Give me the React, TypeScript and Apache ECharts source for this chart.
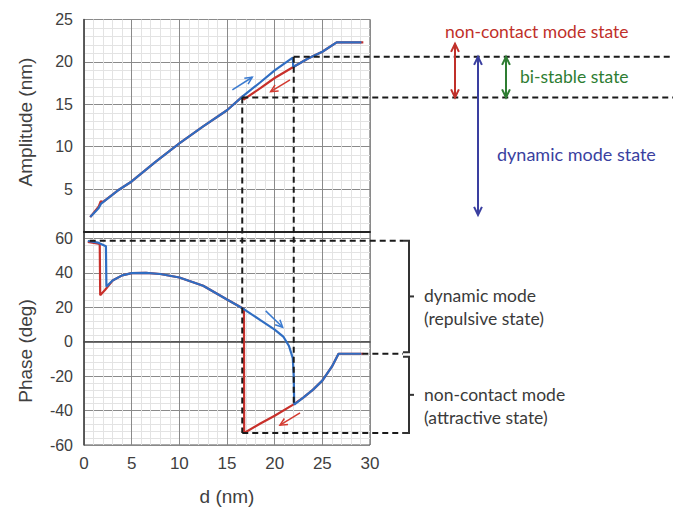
import React, { useEffect, useRef } from "react";
import * as echarts from "echarts";

// ---------- tick labels ----------
const xTickLabels = [0, 5, 10, 15, 20, 25, 30];
const ampTickLabels = [5, 10, 15, 20, 25];
const phaseTickLabels = [-60, -40, -20, 0, 20, 40, 60];

// ---------- amplitude (top panel) ----------
const ampBlueD = [0.65, 1.5, 1.8, 3.5, 5, 7.5, 10, 12.5, 15, 16.7, 18.5, 20, 21.9, 21.95, 23.5, 25, 26.5, 29.1];
const ampBlueA = [1.7, 2.7, 3.3, 4.8, 5.9, 8.2, 10.4, 12.4, 14.3, 16.0, 17.6, 19.0, 20.5, 19.4, 20.4, 21.2, 22.3, 22.3];

const ampRedD = [29.3, 26.5, 25, 23.5, 21.95, 20, 18.5, 17.0, 16.75, 16.7, 15, 12.5, 10, 7.5, 5, 3.5, 2.0, 1.75, 1.55, 0.65];
const ampRedA = [22.3, 22.3, 21.2, 20.4, 19.4, 18.1, 16.9, 15.75, 15.55, 16.0, 14.3, 12.4, 10.4, 8.2, 5.9, 4.8, 3.5, 3.55, 2.95, 1.7];

// ---------- phase (bottom panel) ----------
const phBlueD = [0.4, 1.5, 2.3, 2.35, 3.0, 4.0, 5.0, 6.5, 8.0, 10, 12.5, 15, 16.8, 18.5, 20, 20.9, 21.5, 21.9, 22.0, 22.05, 23, 24, 25, 26, 26.7, 29.1];
const phBlueP = [58.5, 57.5, 55.5, 32, 35.5, 38.5, 39.8, 40, 39.3, 37.3, 32.5, 24.5, 18.8, 12.5, 7.0, 3.0, -2.5, -9.5, -20, -36.5, -32.5, -28, -22.6, -14.5, -7, -7];

const phRedD = [0.4, 1.5, 1.65, 1.7, 2.2, 3.0, 4, 5, 6.5, 8, 10, 12.5, 15, 16.78, 16.8, 18.5, 20, 21.9, 23, 24, 25, 26, 26.7, 29.3];
const phRedP = [58, 57, 56.5, 27, 30, 35.5, 38.5, 39.8, 40, 39.3, 37.3, 32.5, 24.5, 19, -53, -47.5, -43, -36.7, -32.5, -28, -22.6, -14.5, -7, -7];

// ---------- annotation levels (data units) ----------
const A_HIGH = 20.6;
const A_LOW = 15.8;
const D_LOW = 16.6;
const D_HIGH = 22.0;
const P_TOP = 58.7;
const P_FREE = -7;
const P_BOTTOM = -53;
const P_JUMP = -36.5;

const RED = "#c8302b";
const BLUE = "#2f6dc2";
const MAJOR = "#8a8a8a";
const MINOR = "#e3e3e3";

const zip = (a: number[], b: number[]) => a.map((v, i) => [v, b[i]]);

const cycle = (n: number) => {
  const arr = [MAJOR];
  for (let i = 1; i < n; i++) arr.push(MINOR);
  return arr;
};

function arrowEls(x1: number, y1: number, x2: number, y2: number, color: string, w: number, head: number, both: boolean) {
  const els: any[] = [];
  els.push({ type: "line", shape: { x1, y1, x2, y2 }, style: { stroke: color, lineWidth: w }, z: 100 });
  const mk = (x: number, y: number, a: number) => ({
    type: "polyline",
    shape: {
      points: [
        [x - head * Math.cos(a - 0.45), y - head * Math.sin(a - 0.45)],
        [x, y],
        [x - head * Math.cos(a + 0.45), y - head * Math.sin(a + 0.45)],
      ],
    },
    style: { stroke: color, lineWidth: w, fill: null },
    z: 100,
  });
  const ang = Math.atan2(y2 - y1, x2 - x1);
  els.push(mk(x2, y2, ang));
  if (both) els.push(mk(x1, y1, ang + Math.PI));
  return els;
}

const tickFont = { fontFamily: "Liberation Sans", fontSize: 16, color: "#404040" };

export default function App() {
  const ref = useRef<HTMLDivElement>(null);
  useEffect(() => {
    if (!ref.current) return;
    const chart = echarts.init(ref.current, null, { renderer: "svg" });
    const option: any = {
      animation: false,
      backgroundColor: "#ffffff",
      grid: [
        { left: 84, top: 19.5, width: 286, height: 212, show: true, borderColor: "#555", borderWidth: 1 },
        { left: 84, top: 231.5, width: 286, height: 219.5, show: true, borderColor: "#555", borderWidth: 1 },
      ],
      xAxis: [
        {
          type: "value", gridIndex: 0, min: 0, max: 30, interval: 1,
          axisLabel: { show: false }, axisTick: { show: false },
          axisLine: { show: true, lineStyle: { color: "#222", width: 2 } },
          splitLine: { show: true, lineStyle: { color: cycle(5), width: 1 } },
        },
        {
          type: "value", gridIndex: 1, min: 0, max: 30, interval: 1,
          axisTick: { show: false },
          axisLine: { show: true, lineStyle: { color: "#444", width: 1.5 } },
          splitLine: { show: true, lineStyle: { color: cycle(5), width: 1 } },
          axisLabel: {
            ...tickFont, fontSize: 17, margin: 10,
            formatter: (v: number) => (xTickLabels.includes(v) ? String(v) : ""),
          },
          name: "d (nm)", nameLocation: "middle", nameGap: 42,
          nameTextStyle: { fontFamily: "Liberation Sans", fontSize: 19, color: "#404040" },
        },
      ],
      yAxis: [
        {
          type: "value", gridIndex: 0, min: 0, max: 25, interval: 1,
          axisTick: { show: false },
          axisLine: { show: true, lineStyle: { color: "#444", width: 1.5 } },
          splitLine: { show: true, lineStyle: { color: cycle(5), width: 1 } },
          axisLabel: {
            ...tickFont, margin: 11,
            formatter: (v: number) => (ampTickLabels.includes(v) ? String(v) : ""),
          },
        },
        {
          type: "value", gridIndex: 1, min: -60, max: 64, interval: 4,
          axisTick: { show: false },
          axisLine: { show: true, lineStyle: { color: "#444", width: 1.5 } },
          splitLine: { show: true, lineStyle: { color: cycle(5), width: 1 } },
          axisLabel: {
            ...tickFont, margin: 11,
            formatter: (v: number) => (phaseTickLabels.includes(v) ? String(v) : ""),
          },
        },
      ],
      series: [
        { type: "line", name: "amp-retract", xAxisIndex: 0, yAxisIndex: 0, data: zip(ampRedD, ampRedA), showSymbol: false, lineStyle: { color: RED, width: 2.2 }, z: 3 },
        { type: "line", name: "amp-approach", xAxisIndex: 0, yAxisIndex: 0, data: zip(ampBlueD, ampBlueA), showSymbol: false, lineStyle: { color: BLUE, width: 2.2 }, z: 4 },
        { type: "line", name: "phase-retract", xAxisIndex: 1, yAxisIndex: 1, data: zip(phRedD, phRedP), showSymbol: false, lineStyle: { color: RED, width: 2.2 }, z: 3 },
        { type: "line", name: "phase-approach", xAxisIndex: 1, yAxisIndex: 1, data: zip(phBlueD, phBlueP), showSymbol: false, lineStyle: { color: BLUE, width: 2.2 }, z: 4 },
      ],
    };
    chart.setOption(option);

    const p0 = (x: number, y: number) => chart.convertToPixel({ gridIndex: 0 } as any, [x, y]) as number[];
    const p1 = (x: number, y: number) => chart.convertToPixel({ gridIndex: 1 } as any, [x, y]) as number[];

    const dash = (x1: number, y1: number, x2: number, y2: number) => ({
      type: "line", shape: { x1, y1, x2, y2 },
      style: { stroke: "#1a1a1a", lineWidth: 2, lineDash: [6, 4] }, z: 90,
    });

    const g: any[] = [];
    const W = 673;
    const hi = p0(D_HIGH, A_HIGH);
    const lo = p0(D_LOW, A_LOW);
    const vLowEnd = p1(D_LOW, P_BOTTOM);
    const vHighEnd = p1(D_HIGH, P_JUMP);
    const topL = p1(0.6, P_TOP);
    const freeL = p1(29.2, P_FREE);
    const BR = 409;

    g.push(dash(hi[0], hi[1], W, hi[1]));
    g.push(dash(lo[0], lo[1], W, lo[1]));
    g.push(dash(lo[0], lo[1], lo[0], vLowEnd[1]));
    g.push(dash(hi[0], hi[1], hi[0], vHighEnd[1]));
    g.push(dash(topL[0], topL[1], BR - 6, topL[1]));
    g.push(dash(freeL[0], freeL[1], BR - 6, freeL[1]));
    g.push(dash(vLowEnd[0], vLowEnd[1], BR - 6, vLowEnd[1]));

    // brackets
    const bracket = (yt: number, yb: number) => {
      const ym = (yt + yb) / 2;
      g.push({ type: "polyline", shape: { points: [[BR - 6, yt], [BR, yt], [BR, yb], [BR - 6, yb]] }, style: { stroke: "#333", lineWidth: 2, fill: null }, z: 95 });
      g.push({ type: "line", shape: { x1: BR, y1: ym, x2: BR + 5, y2: ym }, style: { stroke: "#333", lineWidth: 2 }, z: 95 });
    };
    bracket(topL[1], freeL[1] - 1.5);
    bracket(freeL[1] + 3, vLowEnd[1]);

    const txt = (text: string, x: number, y: number, fill: string, size: number, align = "left") => ({
      type: "text", x, y, z: 100,
      style: { text, fill, fontFamily: "Lato", fontSize: size, textAlign: align, textVerticalAlign: "middle" },
    });
    const ym1 = (topL[1] + freeL[1]) / 2;
    const ym2 = (freeL[1] + vLowEnd[1]) / 2;
    g.push(txt("dynamic mode", 424, ym1 - 2, "#3a3a3a", 17.5));
    g.push(txt("(repulsive state)", 424, ym1 + 21, "#3a3a3a", 17.5));
    g.push(txt("non-contact mode", 424, ym2 + 1, "#3a3a3a", 17.5));
    g.push(txt("(attractive state)", 424, ym2 + 24, "#3a3a3a", 17.5));

    g.push(txt("non-contact mode state", 445, 31, "#c0302a", 17.5));
    g.push(txt("bi-stable state", 520, 76, "#2e7d32", 17.5));
    g.push(txt("dynamic mode state", 497, 154, "#3a3fa0", 18));

    // vertical double arrows on the right
    g.push(...arrowEls(455, lo[1], 455, hi[1] - 13, "#c0302a", 2, 9, true));
    g.push(...arrowEls(478, hi[1], 478, 215, "#3a3fa0", 2, 9, true));
    g.push(...arrowEls(506, hi[1], 506, lo[1], "#2e7d32", 2, 9, true));

    // direction arrows inside the plots
    const a1 = p0(15.56, 16.69), a2 = p0(17.65, 18.19);
    g.push(...arrowEls(a1[0], a1[1], a2[0], a2[1], "#3b7bd0", 1.5, 8, false));
    const b1 = p0(21.61, 17.87), b2 = p0(19.58, 16.49);
    g.push(...arrowEls(b1[0], b1[1], b2[0], b2[1], "#d33a30", 1.5, 8, false));
    const c1 = p1(19.06, 17.9), c2 = p1(20.84, 8.35);
    g.push(...arrowEls(c1[0], c1[1], c2[0], c2[1], "#3b7bd0", 1.5, 8, false));
    const e1 = p1(22.66, -41.4), e2 = p1(20.56, -48.5);
    g.push(...arrowEls(e1[0], e1[1], e2[0], e2[1], "#d33a30", 1.5, 8, false));

    // y-axis titles
    g.push({
      type: "text", x: 25, y: 122, rotation: Math.PI / 2, z: 100,
      style: { text: "Amplitude (nm)", fill: "#404040", fontFamily: "Liberation Sans", fontSize: 19, textAlign: "center", textVerticalAlign: "middle" },
    });
    g.push({
      type: "text", x: 25, y: 351, rotation: Math.PI / 2, z: 100,
      style: { text: "Phase (deg)", fill: "#404040", fontFamily: "Liberation Sans", fontSize: 19, textAlign: "center", textVerticalAlign: "middle" },
    });

    chart.setOption({ graphic: g });
    return () => chart.dispose();
  }, []);
  return <div ref={ref} style={{ position: "absolute", left: 0, top: 0, width: 673, height: 507 }} />;
}
